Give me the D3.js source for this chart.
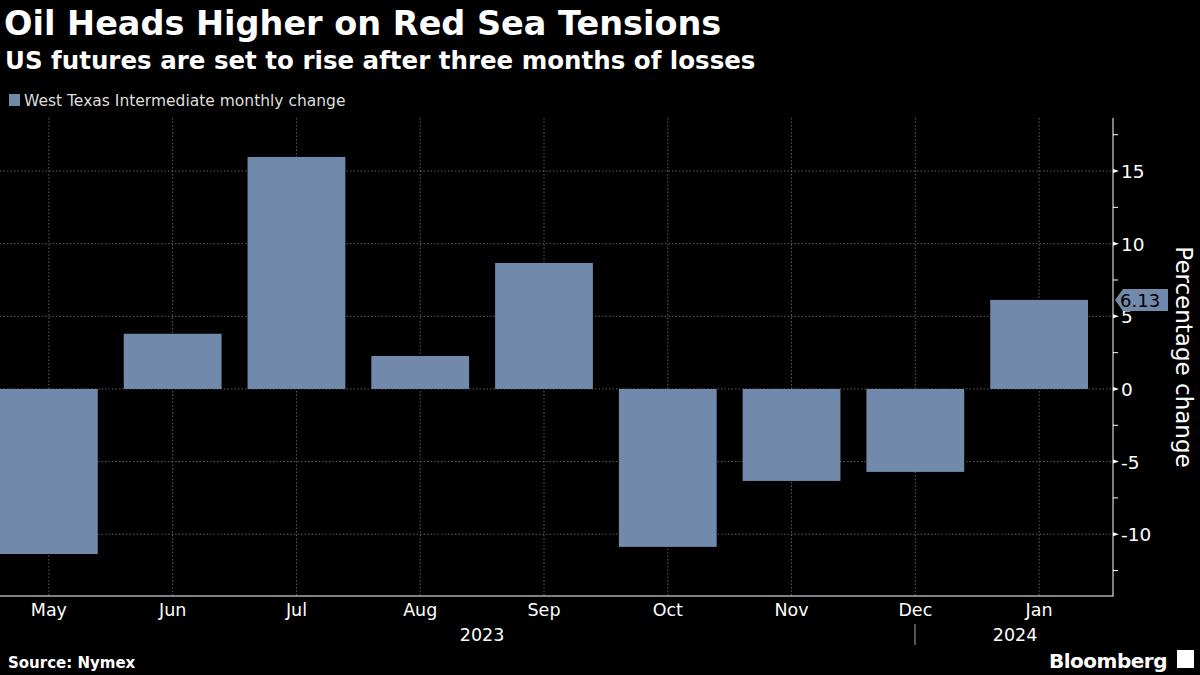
<!DOCTYPE html>
<html><head><meta charset="utf-8">
<script src="https://cdn.jsdelivr.net/npm/d3@7"></script>
<style>body{margin:0;background:#000}svg{display:block}text{font-family:"DejaVu Sans",sans-serif}</style>
</head><body><svg id="c" width="1200" height="675"></svg>
<script>
const months = ["May","Jun","Jul","Aug","Sep","Oct","Nov","Dec","Jan"];
const changes = [-11.36, 3.8, 15.97, 2.27, 8.67, -10.87, -6.33, -5.71, 6.13];
const yTicks = [-10,-5,0,5,10,15];
const years = [{label:"2023", from:"May", to:"Dec"},{label:"2024", from:"Jan", to:"Jan"}];

const svg = d3.select("#c");
const bar = "#7189ab";
svg.append("rect").attr("width",1200).attr("height",675).attr("fill","#000");
svg.append("text").attr("x",4).attr("y",35).attr("fill","#fff").attr("font-size",33.5).attr("font-weight","bold").text("Oil Heads Higher on Red Sea Tensions");
svg.append("text").attr("x",5).attr("y",69).attr("fill","#fff").attr("font-size",24.5).attr("font-weight","bold").text("US futures are set to rise after three months of losses");
svg.append("rect").attr("x",9).attr("y",94).attr("width",11).attr("height",12).attr("fill",bar);
svg.append("text").attr("x",24).attr("y",106).attr("fill","#ddd").attr("font-size",15.5).text("West Texas Intermediate monthly change");

const x = d3.scaleBand().domain(months).range([-13,1101]).paddingInner(0.21).paddingOuter(0.105);
const y = d3.scaleLinear().domain([-14.25,18.65]).range([596,118]);
const AX = 1113;
const cx = m => x(m)+x.bandwidth()/2;

const g = svg.append("g");
yTicks.forEach(t=>g.append("line").attr("x1",0).attr("x2",AX).attr("y1",y(t)).attr("y2",y(t)).attr("stroke","#777").attr("stroke-dasharray","1.5,2").attr("stroke-width",0.8));
months.forEach(m=>g.append("line").attr("x1",cx(m)).attr("x2",cx(m)).attr("y1",118).attr("y2",596).attr("stroke","#777").attr("stroke-dasharray","1.5,2").attr("stroke-width",0.8));

g.selectAll(".b").data(months).join("rect").attr("x",m=>x(m)).attr("width",x.bandwidth())
 .attr("y",(m,i)=>y(Math.max(0,changes[i]))).attr("height",(m,i)=>Math.abs(y(changes[i])-y(0))).attr("fill",bar);

svg.append("line").attr("x1",AX).attr("x2",AX).attr("y1",118).attr("y2",596).attr("stroke","#fff");
svg.append("line").attr("x1",0).attr("x2",AX+0.5).attr("y1",596).attr("y2",596).attr("stroke","#fff");
d3.range(-12.5,18,2.5).forEach(t=>{
  if(t%5!==0) svg.append("line").attr("x1",AX).attr("x2",AX+5).attr("y1",y(t)).attr("y2",y(t)).attr("stroke","#fff");
});
yTicks.forEach(t=>{
  svg.append("path").attr("d",`M${AX},${y(t)-2}L${AX+6},${y(t)}L${AX},${y(t)+2}Z`).attr("fill","#fff");
  svg.append("text").attr("x",AX+8).attr("y",y(t)+7).attr("fill","#fff").attr("font-size",18.5).text(t);
});
svg.append("text").attr("transform",`translate(1176,357) rotate(90)`).attr("text-anchor","middle").attr("fill","#fff").attr("font-size",23).text("Percentage change");
const last = changes[changes.length-1], ly = y(last);
svg.append("path").attr("d",`M${AX+2},${ly}L${AX+10},${ly-11}H1168V${ly+11}H${AX+10}Z`).attr("fill",bar);
svg.append("text").attr("x",1120).attr("y",ly+7).attr("fill","#000").attr("font-size",18).text(last.toFixed(2));

months.forEach(m=>svg.append("text").attr("x",cx(m)).attr("y",616).attr("text-anchor","middle").attr("fill","#fff").attr("font-size",17.5).text(m));
years.forEach(yr=>{
  const a=cx(yr.from), b=cx(yr.to);
  svg.append("text").attr("x",(a+b)/2+(yr.label==="2024"?-24:0)).attr("y",641).attr("text-anchor","middle").attr("fill","#fff").attr("font-size",17.5).text(yr.label);
});
svg.append("line").attr("x1",915).attr("x2",915).attr("y1",624).attr("y2",645).attr("stroke","#aaa");

svg.append("text").attr("x",8).attr("y",668).attr("fill","#fff").attr("font-size",15).attr("font-weight","bold").text("Source: Nymex");
svg.append("text").attr("x",1167).attr("y",668).attr("text-anchor","end").attr("fill","#fff").attr("font-size",20).attr("font-weight","bold").attr("letter-spacing",-0.5).text("Bloomberg");
svg.append("rect").attr("x",1177).attr("y",650).attr("width",17).attr("height",18).attr("fill","#fff");
</script></body></html>
